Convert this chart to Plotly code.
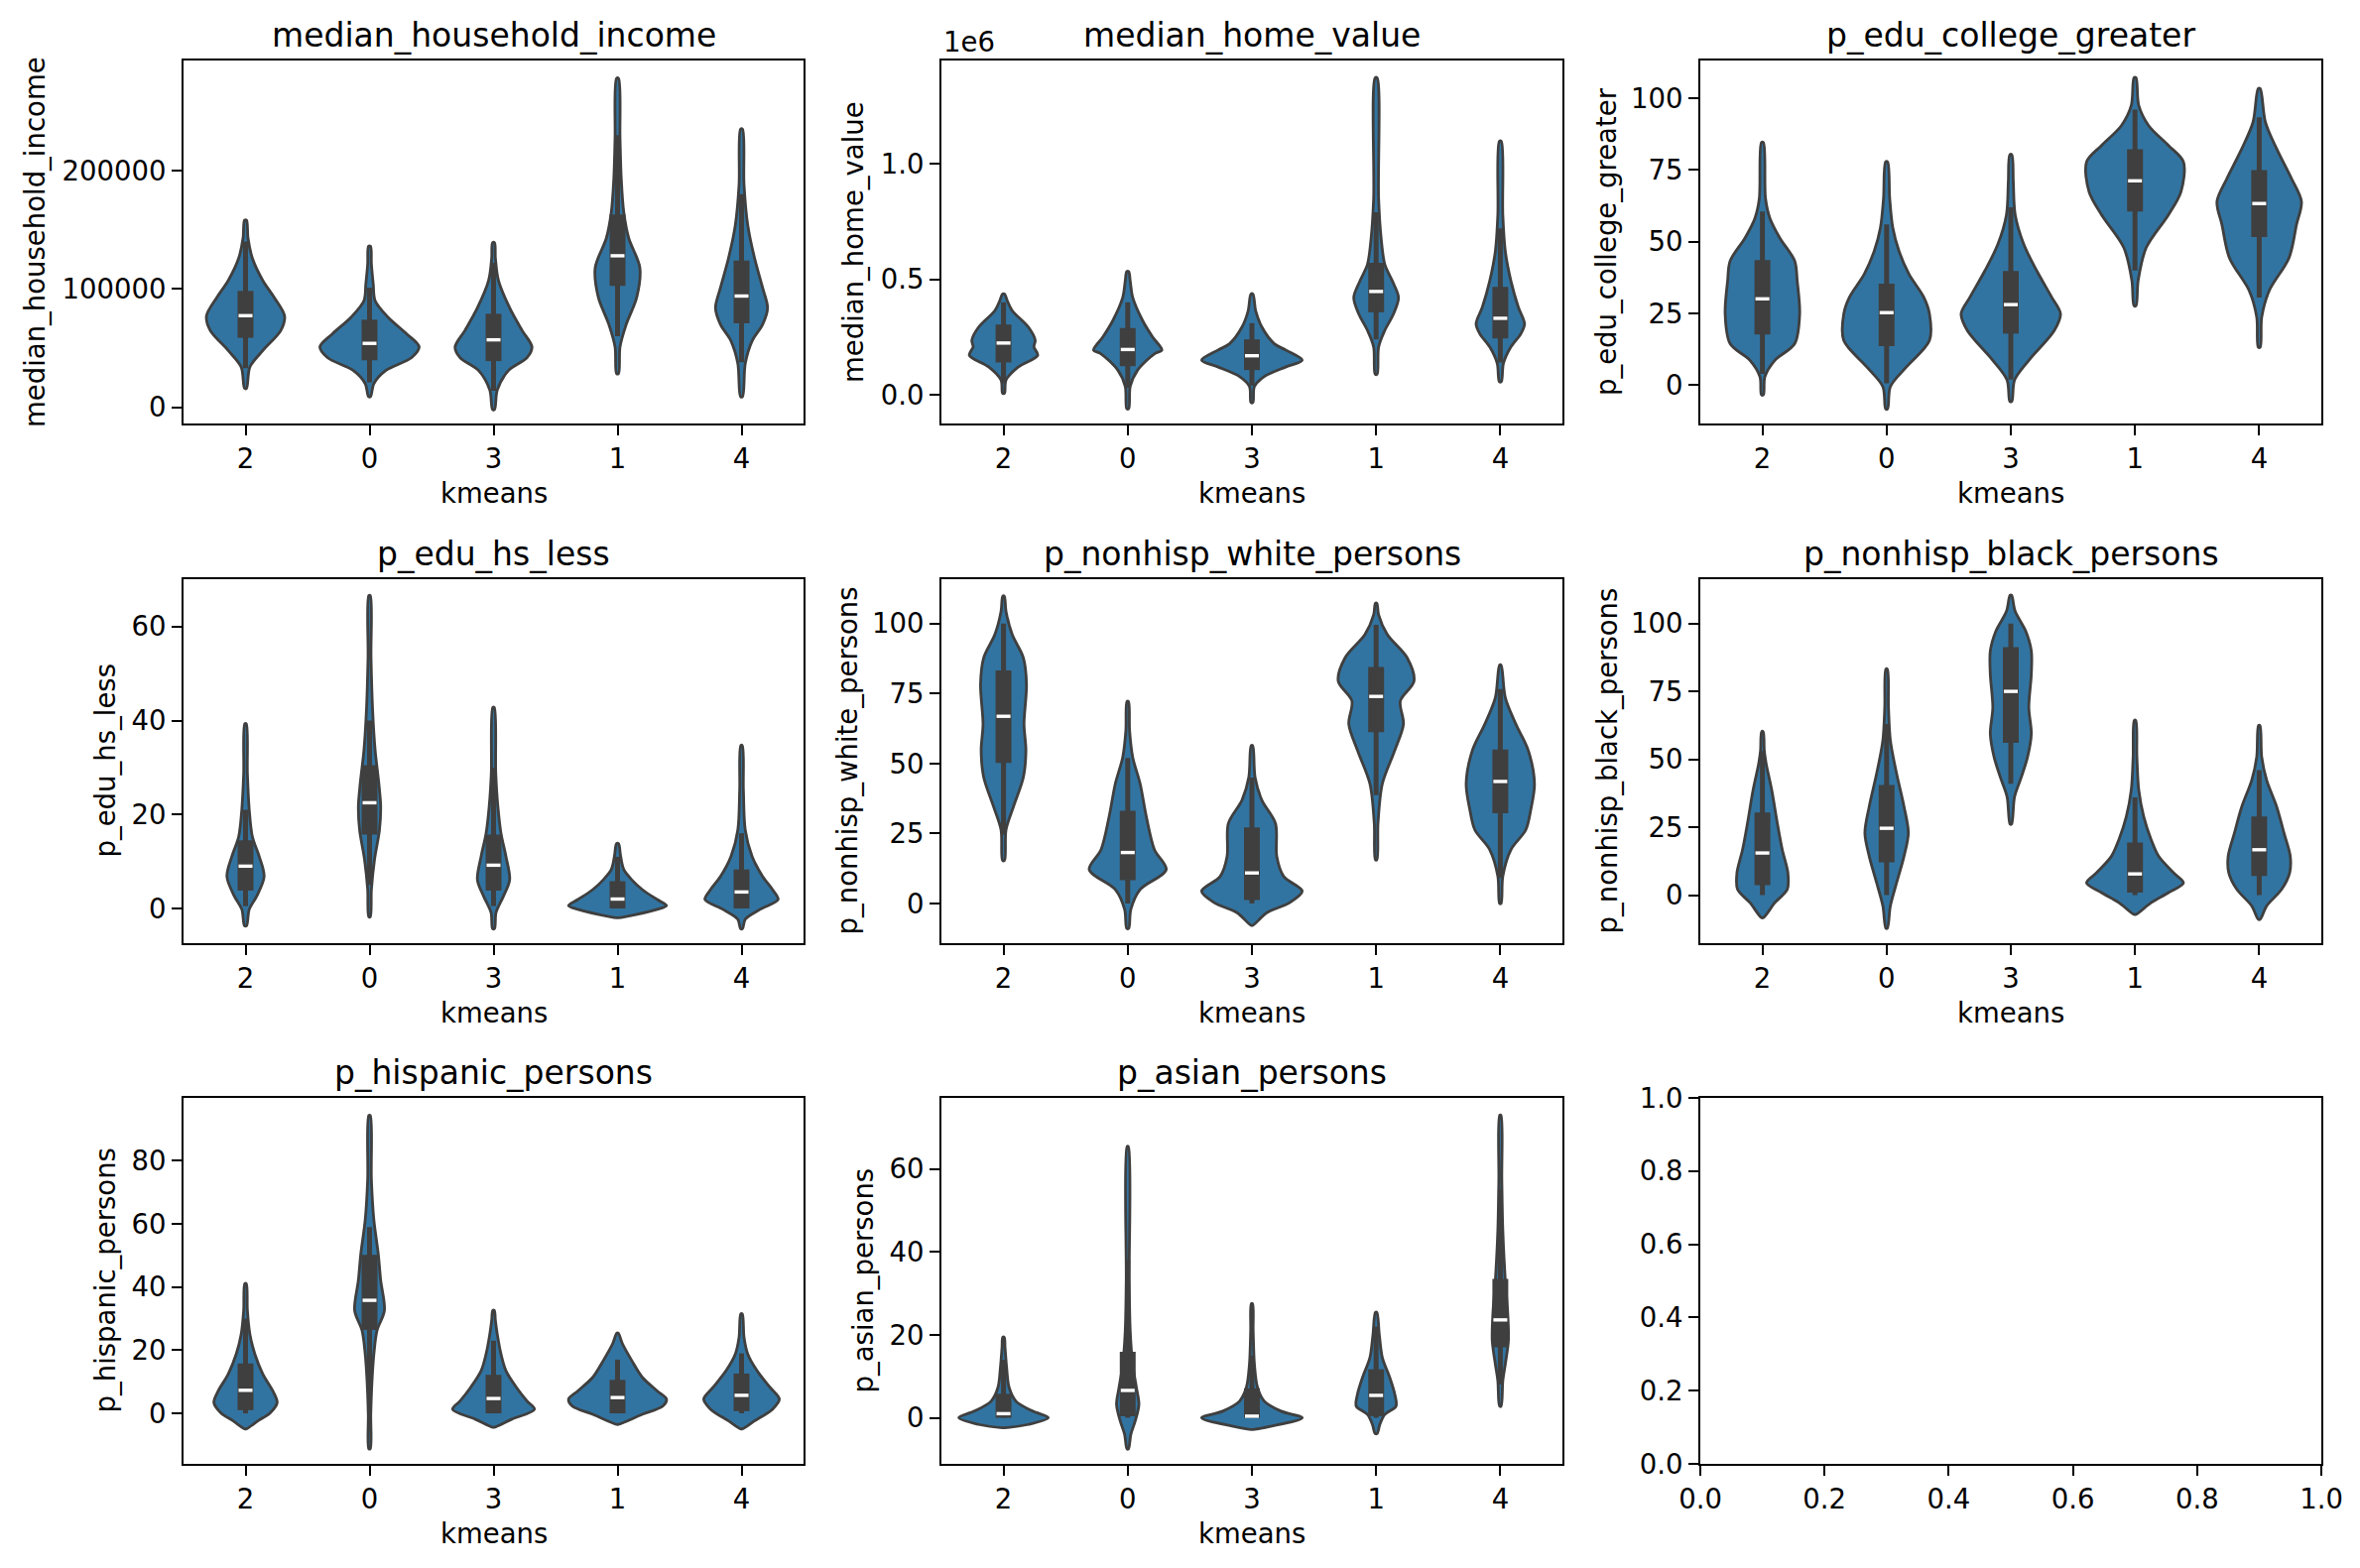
import plotly.graph_objects as go

CATS = ["2", "0", "3", "1", "4"]

# ---------------- median_household_income ----------------
income_y = [
    [16000, 34000, 48000, 65000, 77000, 93000, 107000, 126000, 143000, 158000],
    [9000, 20000, 31000, 42000, 51000, 62000, 76000, 90000, 104000, 121000, 136000],
    [-2000, 14500, 31000, 42000, 51000, 65000, 84000, 107000, 126000, 139000],
    [28500, 51000, 70000, 93000, 118000, 143000, 165000, 193000, 227000, 278000],
    [9000, 37000, 56000, 70000, 84000, 101000, 126000, 154000, 188000, 235000],
]
income_w = [
    [0.008, 0.035, 0.14, 0.285, 0.315, 0.23, 0.14, 0.055, 0.02, 0.008],
    [0.008, 0.035, 0.13, 0.34, 0.40, 0.30, 0.15, 0.045, 0.03, 0.015, 0.008],
    [0.008, 0.03, 0.12, 0.27, 0.31, 0.23, 0.13, 0.04, 0.015, 0.008],
    [0.008, 0.02, 0.07, 0.155, 0.18, 0.09, 0.05, 0.03, 0.02, 0.008],
    [0.008, 0.03, 0.085, 0.17, 0.21, 0.17, 0.105, 0.05, 0.02, 0.008],
]
income_q1 = [58700, 39700, 39000, 102500, 71000]
income_med = [77400, 54000, 57000, 128000, 94000]
income_q3 = [98300, 74000, 79000, 163000, 124000]
income_wlo = [33000, 21000, 14000, 60000, 38000]
income_whi = [140000, 101000, 122000, 230000, 180000]

# ---------------- median_home_value ----------------
home_y = [
    [7000, 64000, 121000, 171000, 207000, 236000, 293000, 364000, 407000, 436000],
    [-60000, 36000, 107000, 179000, 193000, 250000, 321000, 421000, 493000, 533000],
    [-33000, 36000, 79000, 121000, 150000, 193000, 221000, 293000, 364000, 436000],
    [89000, 207000, 279000, 350000, 421000, 493000, 564000, 679000, 850000, 1371000],
    [57000, 136000, 207000, 264000, 307000, 379000, 493000, 621000, 779000, 1096000],
]
home_w = [
    [0.008, 0.02, 0.12, 0.275, 0.245, 0.255, 0.2, 0.07, 0.03, 0.008],
    [0.008, 0.02, 0.08, 0.22, 0.275, 0.2, 0.12, 0.04, 0.02, 0.008],
    [0.008, 0.02, 0.1, 0.275, 0.405, 0.275, 0.18, 0.08, 0.03, 0.008],
    [0.008, 0.02, 0.07, 0.14, 0.18, 0.13, 0.07, 0.04, 0.02, 0.008],
    [0.008, 0.025, 0.085, 0.165, 0.195, 0.145, 0.085, 0.04, 0.02, 0.008],
]
home_q1 = [140000, 124000, 107000, 357000, 244000]
home_med = [224000, 196000, 169000, 447000, 331000]
home_q3 = [304000, 289000, 240000, 571000, 467000]
home_wlo = [50000, 30000, 40000, 240000, 140000]
home_whi = [400000, 400000, 310000, 790000, 720000]

# ---------------- p_edu_college_greater ----------------
col_y = [
    [-3.3, 3, 8.7, 14.5, 24.9, 36.4, 43.3, 51.3, 58.2, 65, 84.5],
    [-8.2, -0.5, 6.4, 15.6, 24.9, 30.6, 38.7, 46.7, 54.8, 65, 77.8],
    [-5.6, 1.8, 8.7, 19.1, 24.9, 30.6, 39.8, 49, 59.4, 70.9, 80.3],
    [27.7, 36.4, 47.9, 59.4, 67.4, 77.8, 83.5, 90.4, 97.4, 107.1],
    [13.3, 23.7, 32.9, 44.4, 55.9, 64, 72, 82.4, 91.6, 103.3],
]
col_w = [
    [0.008, 0.02, 0.1, 0.26, 0.30, 0.28, 0.26, 0.14, 0.06, 0.025, 0.008],
    [0.008, 0.03, 0.16, 0.345, 0.345, 0.30, 0.18, 0.1, 0.05, 0.025, 0.008],
    [0.008, 0.03, 0.145, 0.35, 0.40, 0.33, 0.21, 0.105, 0.035, 0.02, 0.008],
    [0.008, 0.025, 0.09, 0.27, 0.37, 0.39, 0.27, 0.11, 0.03, 0.008],
    [0.008, 0.02, 0.08, 0.24, 0.30, 0.34, 0.26, 0.14, 0.05, 0.008],
]
col_q1 = [17.7, 13.6, 18, 60.5, 51.6]
col_med = [30.1, 25.3, 28.1, 71.2, 63.3]
col_q3 = [43.6, 35.4, 39.8, 82.2, 74.9]
col_wlo = [4, 0.7, 2, 40, 30.6]
col_whi = [60.5, 56, 62, 96, 93.3]

# ---------------- p_edu_hs_less ----------------
hs_y = [
    [-3.7, -0.2, 2.6, 6.8, 11.1, 15.3, 21, 28.7, 39.3],
    [-1.8, 4, 10.4, 16.7, 21.7, 26.6, 33.7, 42.1, 53.4, 66.6],
    [-4.3, -0.9, 2.6, 6.1, 11.1, 16, 21.7, 28.7, 42.8],
    [-2, -1.3, -0.2, 0.6, 1.9, 4, 6.1, 8.3, 11.1, 13.8],
    [-4.3, -2.3, -0.2, 1.9, 4, 6.8, 11.1, 16.7, 25.2, 34.7],
]
hs_w = [
    [0.008, 0.03, 0.09, 0.15, 0.11, 0.055, 0.03, 0.015, 0.006],
    [0.006, 0.015, 0.04, 0.08, 0.09, 0.075, 0.045, 0.025, 0.012, 0.006],
    [0.008, 0.02, 0.08, 0.13, 0.1, 0.06, 0.035, 0.018, 0.006],
    [0.008, 0.15, 0.32, 0.395, 0.32, 0.2, 0.115, 0.05, 0.025, 0.008],
    [0.008, 0.03, 0.15, 0.295, 0.25, 0.17, 0.085, 0.03, 0.015, 0.006],
]
hs_q1 = [3.8, 15.7, 3.8, 0.0, 0.0]
hs_med = [9, 22.5, 9.2, 2.0, 3.5]
hs_q3 = [14.5, 30.5, 15.7, 5.8, 8.3]
hs_wlo = [0.5, 5, 0.5, 0, 0]
hs_whi = [21, 40, 30, 11, 16]

# ---------------- p_nonhisp_white_persons ----------------
wh_y = [
    [15.4, 26.3, 34.6, 45.2, 54.7, 64.1, 78.3, 87.8, 96.1, 104.4, 109.9],
    [-8.9, -2.1, 5, 12.1, 19.2, 31, 42.8, 52.3, 61.8, 72.2],
    [-7.8, -3.3, 0.2, 4.4, 9.7, 16.8, 28.6, 36.9, 45.2, 56.4],
    [15.6, 28.6, 42.8, 54.7, 64.1, 72.4, 79.5, 87.8, 96.1, 103.2, 107.3],
    [0, 9.7, 19.2, 26.3, 33.4, 42.8, 54.7, 64.1, 73.6, 85.2],
]
wh_w = [
    [0.008, 0.02, 0.08, 0.16, 0.18, 0.165, 0.185, 0.16, 0.07, 0.02, 0.006],
    [0.008, 0.025, 0.1, 0.31, 0.215, 0.15, 0.1, 0.04, 0.015, 0.006],
    [0.008, 0.12, 0.3, 0.405, 0.255, 0.2, 0.19, 0.08, 0.025, 0.006],
    [0.006, 0.015, 0.05, 0.15, 0.22, 0.195, 0.305, 0.25, 0.09, 0.02, 0.006],
    [0.006, 0.02, 0.085, 0.205, 0.245, 0.275, 0.225, 0.125, 0.04, 0.006],
]
wh_q1 = [50.2, 8.3, 1.2, 61.2, 32.2]
wh_med = [66.9, 18.2, 10.9, 74, 43.6]
wh_q3 = [83.3, 33.1, 27.2, 84.5, 55]
wh_wlo = [24.5, 0, 0, 38.7, 9.1]
wh_whi = [100, 52, 45, 99.6, 76.6]

# ---------------- p_nonhisp_black_persons ----------------
bl_y = [
    [-8.3, -2.8, 2.1, 8.2, 16.7, 26.5, 38.7, 48.4, 53.3, 60.2],
    [-12.2, -4, 4.5, 14.3, 22.8, 32.6, 44.8, 57, 69.1, 83.2],
    [26.1, 36.2, 43.5, 50.9, 59.4, 69.1, 81.3, 89.9, 97.2, 104.5, 110.4],
    [-7.1, -2.8, 0.9, 4.5, 8.2, 14.3, 20.4, 28.9, 38.7, 50.9, 64.3],
    [-8.9, -4, 2.1, 8.2, 14.3, 22.8, 32.6, 42.3, 50.9, 62.4],
]
bl_w = [
    [0.008, 0.1, 0.2, 0.205, 0.16, 0.12, 0.075, 0.03, 0.015, 0.006],
    [0.006, 0.03, 0.08, 0.14, 0.175, 0.14, 0.08, 0.03, 0.015, 0.006],
    [0.006, 0.03, 0.085, 0.135, 0.165, 0.145, 0.165, 0.165, 0.12, 0.035, 0.006],
    [0.008, 0.13, 0.27, 0.39, 0.31, 0.19, 0.13, 0.07, 0.03, 0.015, 0.006],
    [0.008, 0.06, 0.18, 0.245, 0.25, 0.2, 0.14, 0.06, 0.02, 0.006],
]
bl_q1 = [3.7, 12.1, 56.1, 0.9, 7]
bl_med = [15.5, 24.6, 75, 7.8, 16.7]
bl_q3 = [30.4, 40.5, 91.3, 19.4, 28.9]
bl_wlo = [0, 0, 41, 0, 0]
bl_whi = [53, 63, 100, 36, 46]

# ---------------- p_hispanic_persons ----------------
hi_y = [
    [-4.9, -2.4, 0.2, 3.4, 7.1, 12.4, 18.8, 25.1, 32.6, 41.1],
    [-11.2, -0.3, 10.3, 18.8, 26.2, 32.6, 42.1, 50.6, 61.2, 74, 94.3],
    [-4.4, -1.9, 1.3, 3.9, 8.2, 13.5, 18.8, 25.1, 29.4, 32.6],
    [-3.5, -0.3, 2.3, 4.5, 7.1, 11.4, 16.7, 22, 25.4],
    [-4.9, -2.4, 1.3, 4.5, 8.2, 13.5, 18.8, 24.1, 31.5],
]
hi_w = [
    [0.008, 0.1, 0.2, 0.255, 0.22, 0.14, 0.075, 0.035, 0.015, 0.006],
    [0.006, 0.01, 0.02, 0.035, 0.06, 0.12, 0.09, 0.07, 0.035, 0.015, 0.006],
    [0.008, 0.145, 0.33, 0.27, 0.185, 0.1, 0.06, 0.03, 0.015, 0.006],
    [0.008, 0.2, 0.365, 0.395, 0.32, 0.2, 0.115, 0.04, 0.006],
    [0.008, 0.105, 0.25, 0.305, 0.23, 0.125, 0.05, 0.02, 0.006],
]
hi_q1 = [1, 26.4, 0, 0, 0.7]
hi_med = [7.3, 35.8, 4.7, 5, 5.7]
hi_q3 = [15.8, 50.2, 12.2, 10.6, 12.6]
hi_wlo = [0, 0, 0, 0, 0]
hi_whi = [30, 59, 23, 17, 19]

# ---------------- p_asian_persons ----------------
as_y = [
    [-2.4, -1.6, 0, 1.6, 4, 7.3, 12.1, 17, 19.4],
    [-7.5, -4, -0.8, 3.2, 7.3, 12.9, 21, 33.1, 65.4],
    [-2.8, -2, 0, 1.6, 4, 7.3, 12.9, 21, 27.5],
    [-3.8, -1.6, 0.8, 2.8, 5.7, 9.7, 14.5, 20.2, 25.4],
    [2.8, 8.9, 12.9, 18.6, 25, 33.1, 45.2, 57.3, 72.9],
]
as_w = [
    [0.008, 0.2, 0.36, 0.235, 0.1, 0.045, 0.025, 0.012, 0.006],
    [0.006, 0.025, 0.06, 0.09, 0.07, 0.04, 0.02, 0.012, 0.005],
    [0.008, 0.16, 0.405, 0.235, 0.1, 0.045, 0.02, 0.01, 0.005],
    [0.008, 0.03, 0.07, 0.16, 0.15, 0.11, 0.05, 0.025, 0.006],
    [0.006, 0.02, 0.04, 0.065, 0.06, 0.04, 0.02, 0.012, 0.005],
]
as_q1 = [0, 0.4, 0, 0.4, 17]
as_med = [1, 6.6, 0.4, 5.4, 23.6]
as_q3 = [5.8, 15.9, 7.1, 11.7, 33.5]
as_wlo = [0, 0, 0, 0, 8]
as_whi = [14, 38, 15, 22, 55]

# ---------------- axis ticks ----------------
income_ticks = [0, 100000, 200000]
income_ticktext = ["0", "100000", "200000"]
home_ticks = [0, 500000, 1000000]
home_ticktext = ["0.0", "0.5", "1.0"]
pct100_ticks = [0, 25, 50, 75, 100]
pct80_ticks = [0, 20, 40, 60, 80]
pct60_ticks = [0, 20, 40, 60]
unit_ticks = [0, 0.2, 0.4, 0.6, 0.8, 1.0]
unit_ticktext = ["0.0", "0.2", "0.4", "0.6", "0.8", "1.0"]

panels = [
    dict(title="median_household_income", y=income_y, w=income_w, q1=income_q1, med=income_med,
         q3=income_q3, wlo=income_wlo, whi=income_whi, rng=[-13700, 293000],
         tv=income_ticks, tt=income_ticktext, yoff=150),
    dict(title="median_home_value", y=home_y, w=home_w, q1=home_q1, med=home_med,
         q3=home_q3, wlo=home_wlo, whi=home_whi, rng=[-124000, 1446000],
         tv=home_ticks, tt=home_ticktext, yoff=89),
    dict(title="p_edu_college_greater", y=col_y, w=col_w, q1=col_q1, med=col_med,
         q3=col_q3, wlo=col_wlo, whi=col_whi, rng=[-13.3, 113.1],
         tv=pct100_ticks, tt=[str(v) for v in pct100_ticks], yoff=95),
    dict(title="p_edu_hs_less", y=hs_y, w=hs_w, q1=hs_q1, med=hs_med,
         q3=hs_q3, wlo=hs_wlo, whi=hs_whi, rng=[-7.4, 70.1],
         tv=pct60_ticks, tt=[str(v) for v in pct60_ticks], yoff=79),
    dict(title="p_nonhisp_white_persons", y=wh_y, w=wh_w, q1=wh_q1, med=wh_med,
         q3=wh_q3, wlo=wh_wlo, whi=wh_whi, rng=[-14.2, 115.9],
         tv=pct100_ticks, tt=[str(v) for v in pct100_ticks], yoff=95),
    dict(title="p_nonhisp_black_persons", y=bl_y, w=bl_w, q1=bl_q1, med=bl_med,
         q3=bl_q3, wlo=bl_wlo, whi=bl_whi, rng=[-17.7, 116.3],
         tv=pct100_ticks, tt=[str(v) for v in pct100_ticks], yoff=94),
    dict(title="p_hispanic_persons", y=hi_y, w=hi_w, q1=hi_q1, med=hi_med,
         q3=hi_q3, wlo=hi_wlo, whi=hi_whi, rng=[-16, 99.9],
         tv=pct80_ticks, tt=[str(v) for v in pct80_ticks], yoff=79),
    dict(title="p_asian_persons", y=as_y, w=as_w, q1=as_q1, med=as_med,
         q3=as_q3, wlo=as_wlo, whi=as_whi, rng=[-11.1, 77.1],
         tv=pct60_ticks, tt=[str(v) for v in pct60_ticks], yoff=79),
]

# page is 2379x1581; the html body has an 8px margin, so the figure is drawn inset by 8px
PW, PH = 2379, 1581
OFF = 8
W, H = PW - 2 * OFF, PH - 2 * OFF


def fx(px):
    return (px - OFF) / W


def fy(py):
    return 1 - (py - OFF) / H


col_dom = [[fx(185), fx(810)], [fx(949), fx(1575)], [fx(1714), fx(2340)]]
row_dom = [[fy(427), fy(61)], [fy(951), fy(584)], [fy(1476), fy(1107)]]

FILL = "#3274a1"
EDGE = "#3f3f3f"
FONT = "DejaVu Sans"
TICK_FS = 27.5
LABEL_FS = 27.5
TITLE_FS = 33

fig = go.Figure()
layout = dict(template="none", width=W, height=H, margin=dict(l=0, r=0, t=0, b=0, pad=0),
              paper_bgcolor="white", plot_bgcolor="white", showlegend=False,
              font=dict(family=FONT, color="black", size=TICK_FS))
annotations = []


def axis_common():
    return dict(showgrid=False, zeroline=False, showline=True, mirror=True, automargin=False,
                linecolor="black", linewidth=2.2, ticks="outside", ticklen=10,
                tickwidth=2.2, tickcolor="black",
                tickfont=dict(family=FONT, size=TICK_FS, color="black"))


for i in range(9):
    r, c = divmod(i, 3)
    n = i + 1
    xk = "xaxis" if n == 1 else f"xaxis{n}"
    yk = "yaxis" if n == 1 else f"yaxis{n}"
    xref = "x" if n == 1 else f"x{n}"
    yref = "y" if n == 1 else f"y{n}"
    xd, yd = col_dom[c], row_dom[r]

    xa = axis_common()
    ya = axis_common()
    xa.update(domain=xd, anchor=yref)
    ya.update(domain=yd, anchor=xref)

    if i < 8:
        p = panels[i]
        xa.update(range=[-0.5, 4.5], tickmode="array", tickvals=list(range(5)), ticktext=CATS)
        ya.update(range=p["rng"], tickmode="array", tickvals=p["tv"], ticktext=p["tt"])
        for k in range(5):
            ys = p["y"][k]
            ws = p["w"][k]
            xs = [k + w for w in ws] + [k - w for w in ws[::-1]]
            yy = list(ys) + list(ys[::-1])
            xs.append(xs[0])
            yy.append(yy[0])
            fig.add_trace(go.Scatter(x=xs, y=yy, mode="lines", fill="toself",
                                     fillcolor=FILL, line=dict(color=EDGE, width=2.8, shape="spline", smoothing=0.9),
                                     xaxis=xref, yaxis=yref, hoverinfo="skip"))
            fig.add_trace(go.Scatter(x=[k, k], y=[p["wlo"][k], p["whi"][k]], mode="lines",
                                     line=dict(color=EDGE, width=5), xaxis=xref, yaxis=yref,
                                     hoverinfo="skip"))
            fig.add_trace(go.Scatter(x=[k, k], y=[p["q1"][k], p["q3"][k]], mode="lines",
                                     line=dict(color=EDGE, width=16), xaxis=xref, yaxis=yref,
                                     hoverinfo="skip"))
            fig.add_trace(go.Scatter(x=[k - 0.056, k + 0.056], y=[p["med"][k], p["med"][k]], mode="lines",
                                     line=dict(color="white", width=3.4), xaxis=xref, yaxis=yref,
                                     hoverinfo="skip"))
        xm = (xd[0] + xd[1]) / 2
        ym = (yd[0] + yd[1]) / 2
        annotations.append(dict(text=p["title"], x=xm, y=yd[1], xref="paper", yref="paper",
                                xanchor="center", yanchor="bottom", yshift=4, showarrow=False,
                                font=dict(family=FONT, size=TITLE_FS, color="black")))
        annotations.append(dict(text="kmeans", x=xm, y=yd[0], xref="paper", yref="paper",
                                xanchor="center", yanchor="middle", yshift=-70, showarrow=False,
                                font=dict(family=FONT, size=LABEL_FS, color="black")))
        annotations.append(dict(text=p["title"], x=xd[0] - p["yoff"] / W, y=ym, xref="paper", yref="paper",
                                xanchor="center", yanchor="middle", textangle=-90, showarrow=False,
                                font=dict(family=FONT, size=LABEL_FS, color="black")))
    else:
        xa.update(range=[0, 1], tickmode="array", tickvals=unit_ticks, ticktext=unit_ticktext)
        ya.update(range=[0, 1], tickmode="array", tickvals=unit_ticks, ticktext=unit_ticktext)
        fig.add_trace(go.Scatter(x=[], y=[], mode="markers", xaxis=xref, yaxis=yref, hoverinfo="skip"))

    layout[xk] = xa
    layout[yk] = ya

# offset text for the home value axis
annotations.append(dict(text="1e6", x=col_dom[1][0], y=row_dom[0][1], xref="paper", yref="paper",
                        xanchor="left", yanchor="bottom", yshift=1, showarrow=False,
                        font=dict(family=FONT, size=TICK_FS, color="black")))

layout["annotations"] = annotations
fig.update_layout(**layout)
fig.write_html("out.html")
